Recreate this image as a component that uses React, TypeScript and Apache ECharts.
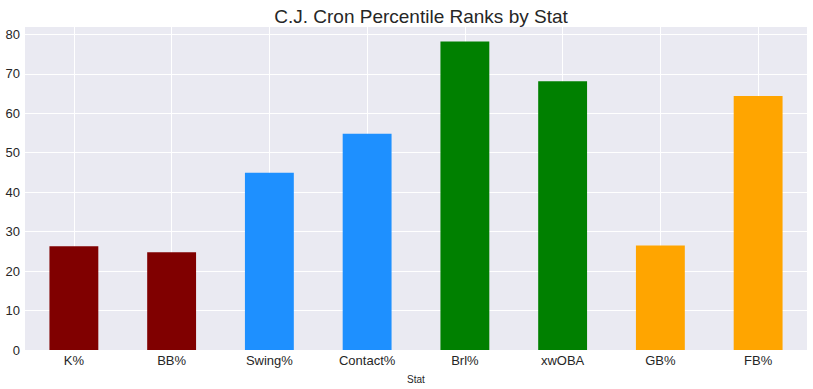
import React, { useEffect, useRef } from "react";
import * as echarts from "echarts";

const categories = ["K%", "BB%", "Swing%", "Contact%", "Brl%", "xwOBA", "GB%", "FB%"];
const values = [26.3, 24.8, 44.9, 54.8, 78.2, 68.1, 26.5, 64.4];
const barColors = ["#800000", "#800000", "#1E90FF", "#1E90FF", "#008000", "#008000", "#FFA500", "#FFA500"];
const yTicks = [0, 10, 20, 30, 40, 50, 60, 70, 80];
const titleText = "C.J. Cron Percentile Ranks by Stat";
const xAxisName = "Stat";

const FONT = "'Liberation Sans', Arial, sans-serif";
const TEXT = "#262626";

export default function App() {
  const ref = useRef<HTMLDivElement>(null);
  useEffect(() => {
    if (!ref.current) return;
    const chart = echarts.init(ref.current, undefined, { renderer: "svg" });
    const yMax = Math.max(...values) * 1.05;
    chart.setOption({
      animation: false,
      backgroundColor: "#ffffff",
      title: {
        text: titleText,
        left: 416,
        textAlign: "center",
        top: 2,
        textStyle: { fontFamily: FONT, fontSize: 19, fontWeight: "normal", color: TEXT },
      },
      grid: {
        left: 25,
        right: 6,
        top: 26,
        bottom: 36.5,
        show: true,
        backgroundColor: "#EAEAF2",
        borderWidth: 0,
      },
      xAxis: {
        type: "category",
        data: categories,
        name: xAxisName,
        nameLocation: "middle",
        nameGap: 24,
        nameTextStyle: { fontFamily: FONT, fontSize: 10, color: TEXT },
        axisLine: { show: false },
        axisTick: { show: false },
        splitLine: { show: false },
        axisLabel: { fontFamily: FONT, fontSize: 13, color: TEXT, margin: 4 },
      },
      yAxis: {
        type: "value",
        min: 0,
        max: yMax,
        interval: 10,
        axisLine: { show: false },
        axisTick: { show: false },
        axisLabel: {
          fontFamily: FONT,
          fontSize: 13,
          color: TEXT,
          margin: 5,
          showMaxLabel: false,
          formatter: (v: number) => (yTicks.includes(v) ? String(v) : ""),
        },
        splitLine: { show: true, lineStyle: { color: "#ffffff", width: 1 } },
      },
      series: [
        {
          type: "bar",
          data: values.map((v, i) => ({ value: v, itemStyle: { color: barColors[i] } })),
          barWidth: "50%",
          z: 2,
          markLine: {
            z: 1,
            silent: true,
            symbol: "none",
            label: { show: false },
            lineStyle: { color: "#ffffff", width: 1, type: "solid" },
            data: categories.map((c) => ({ xAxis: c })),
          },
        },
      ],
    });
    return () => chart.dispose();
  }, []);
  return (
    <div
      ref={ref}
      style={{ position: "fixed", left: 0, top: 0, width: 813, height: 389 }}
    />
  );
}
